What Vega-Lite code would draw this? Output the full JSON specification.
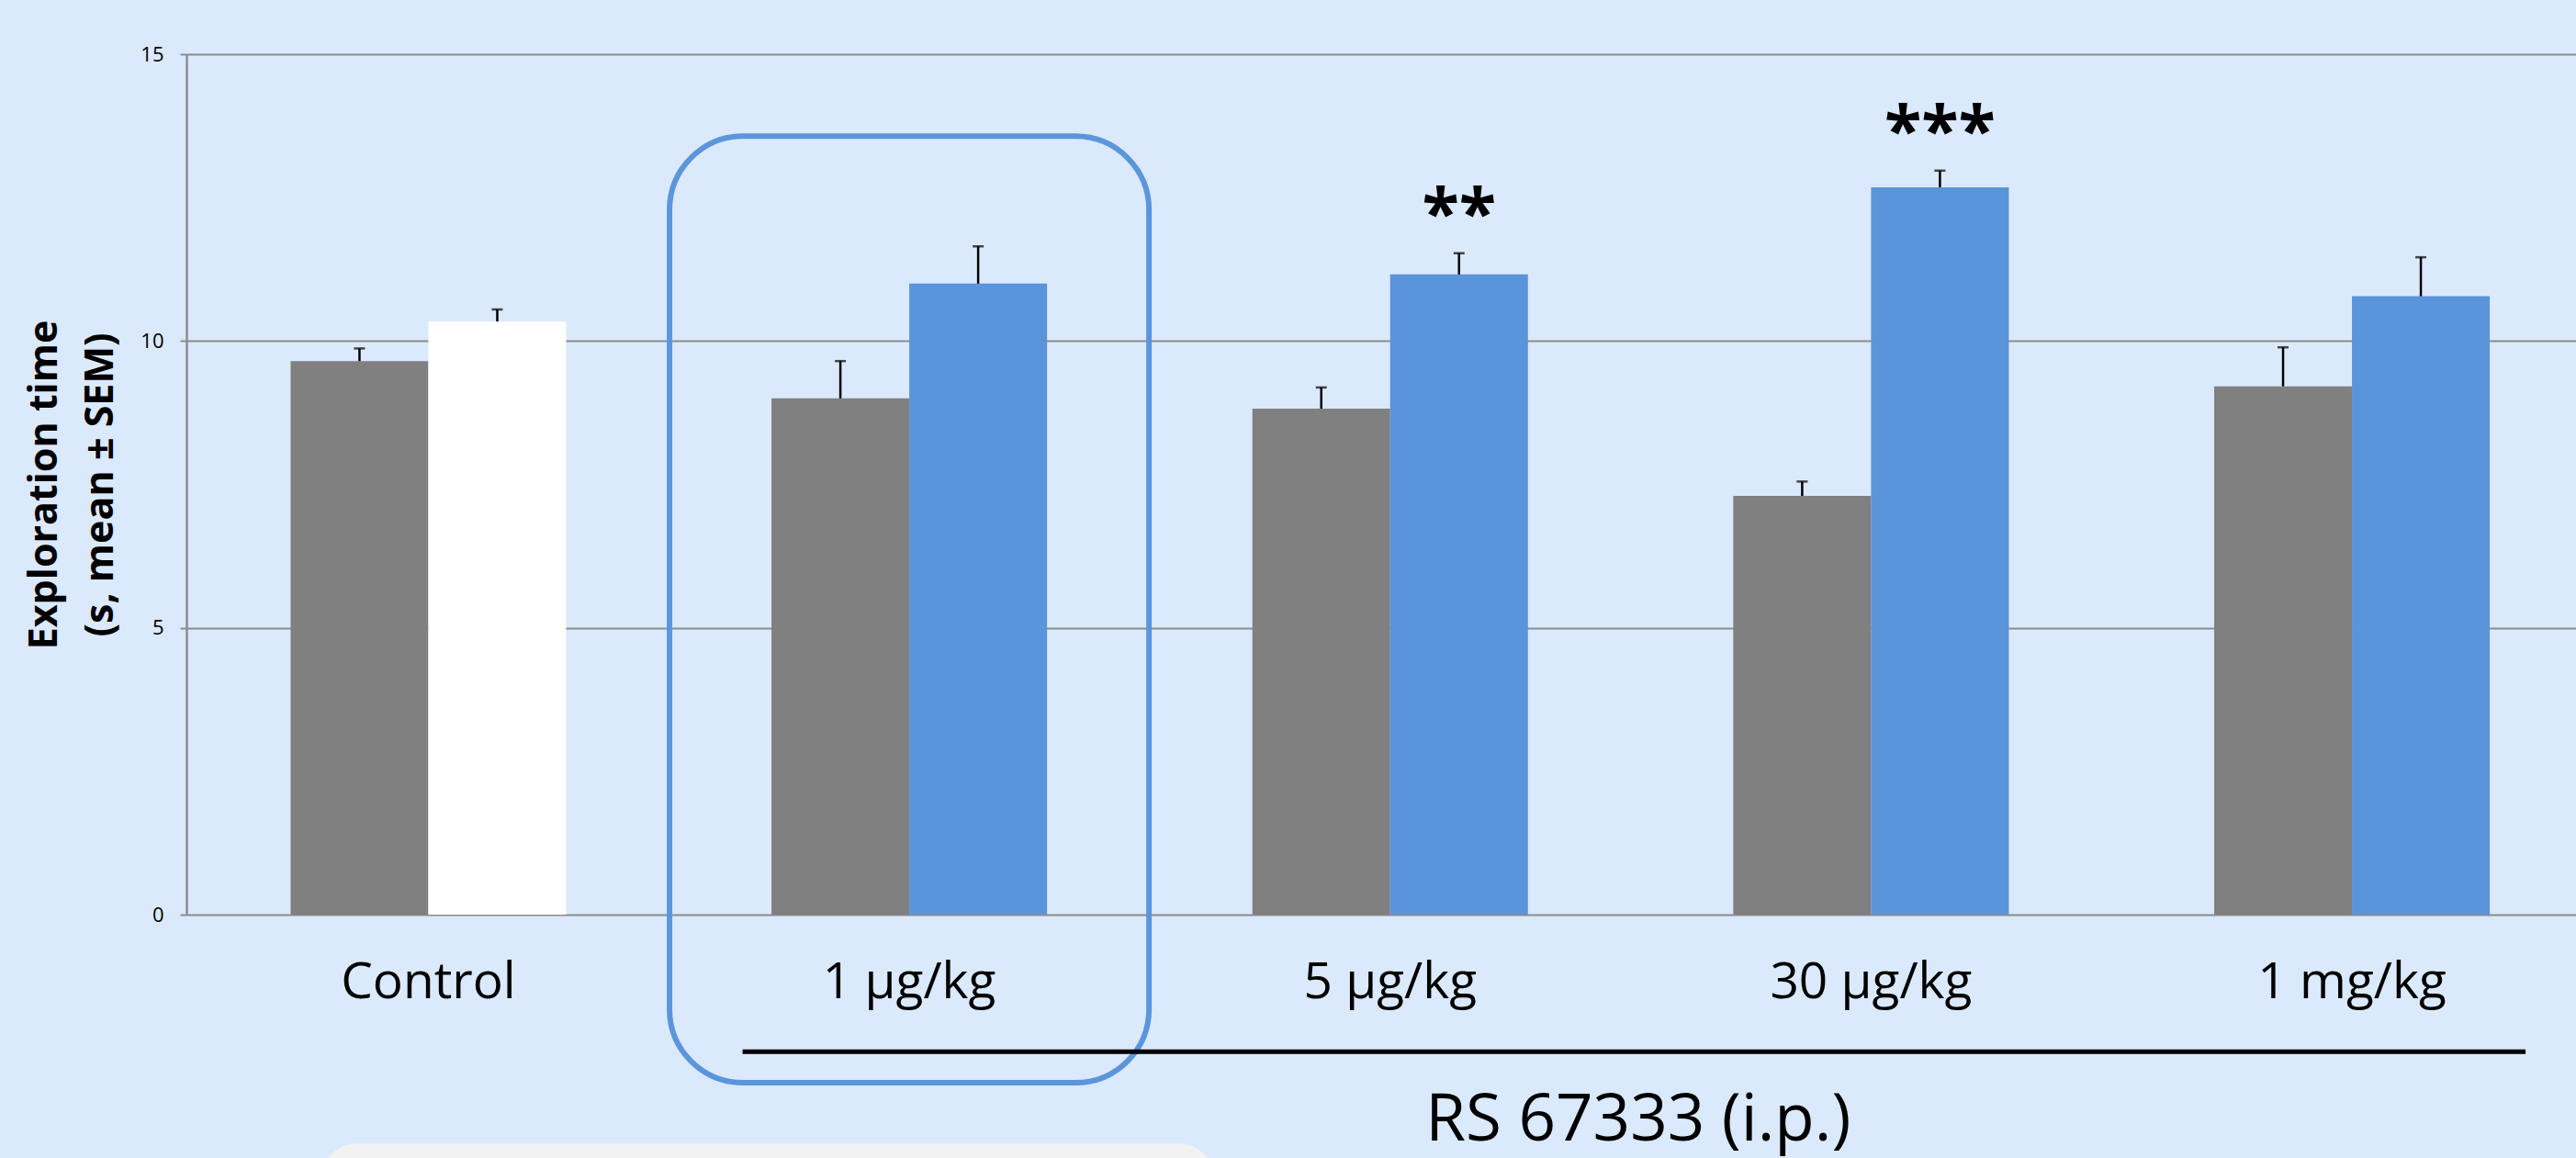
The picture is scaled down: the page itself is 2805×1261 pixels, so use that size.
{
  "$schema": "https://vega.github.io/schema/vega-lite/v6.json",
  "autosize": "none",
  "width": 2602,
  "height": 937,
  "padding": {"left": 203, "top": 59, "right": 0, "bottom": 265},
  "background": "#dbe9fd",
  "config": {"view": {"stroke": null}},
  "data": {"values": [
    {"dose": "Control", "object": "Familiar", "kind": "Familiar", "mean": 9.65, "upper": 9.87},
    {"dose": "Control", "object": "Novel", "kind": "Novel (control)", "mean": 10.34, "upper": 10.55},
    {"dose": "1 µg/kg", "object": "Familiar", "kind": "Familiar", "mean": 9.0, "upper": 9.65},
    {"dose": "1 µg/kg", "object": "Novel", "kind": "Novel", "mean": 11.0, "upper": 11.65},
    {"dose": "5 µg/kg", "object": "Familiar", "kind": "Familiar", "mean": 8.82, "upper": 9.19},
    {"dose": "5 µg/kg", "object": "Novel", "kind": "Novel", "mean": 11.16, "upper": 11.53, "sig": "**"},
    {"dose": "30 µg/kg", "object": "Familiar", "kind": "Familiar", "mean": 7.30, "upper": 7.55},
    {"dose": "30 µg/kg", "object": "Novel", "kind": "Novel", "mean": 12.68, "upper": 12.97, "sig": "***"},
    {"dose": "1 mg/kg", "object": "Familiar", "kind": "Familiar", "mean": 9.21, "upper": 9.89},
    {"dose": "1 mg/kg", "object": "Novel", "kind": "Novel", "mean": 10.78, "upper": 11.46}
  ]},
  "encoding": {
    "x": {
      "field": "dose", "type": "nominal", "sort": null,
      "scale": {"domain": ["Control", "1 µg/kg", "5 µg/kg", "30 µg/kg", "1 mg/kg"], "paddingInner": 0.427, "paddingOuter": 0.198, "align": 0.547},
      "axis": {"title": null, "domain": false, "ticks": false, "tickSize": 0, "labelAngle": 0, "labelFont": "Open Sans", "labelFontSize": 55, "labelColor": "#000000", "labelPadding": 47, "labelLimit": 0, "grid": false}
    }
  },
  "layer": [
    {
      "data": {"values": [{"panel": "next slide element"}]},
      "mark": {"type": "rect", "color": "#f2f2f2", "cornerRadius": 40},
      "encoding": {
        "x": {"datum": "Control", "bandPosition": 0.108},
        "x2": {"datum": "1 µg/kg", "bandPosition": 1.61},
        "y": {"datum": -3.99, "type": "quantitative"},
        "y2": {"datum": -6}
      }
    },
    {
      "data": {"values": [{"dose": "1 µg/kg"}]},
      "mark": {"type": "bar", "fill": "transparent", "stroke": "#5b95dc", "strokeWidth": 6, "cornerRadius": 80, "width": {"band": 1.74}},
      "encoding": {
        "y": {"datum": 13.57, "type": "quantitative"},
        "y2": {"datum": -2.93}
      }
    },
    {
      "mark": {"type": "bar"},
      "encoding": {
        "xOffset": {"field": "object", "type": "nominal", "scale": {"paddingInner": 0, "paddingOuter": 0}},
        "y": {
          "field": "mean", "type": "quantitative",
          "scale": {"domain": [0, 15], "nice": false, "zero": false},
          "axis": {
            "values": [0, 5, 10, 15], "format": "d", "grid": true, "gridColor": "#8c8c8c", "gridWidth": 2,
            "domainColor": "#8c8c8c", "domainWidth": 2.5, "tickColor": "#8c8c8c", "tickWidth": 2, "tickSize": 7,
            "labelFont": "Open Sans", "labelFontSize": 22, "labelColor": "#000000", "labelPadding": 18,
            "title": ["Exploration time", "(s, mean ± SEM)"],
            "titleFont": "Open Sans", "titleFontWeight": "bold", "titleFontSize": 43, "titleLineHeight": 61,
            "titleColor": "#000000", "titlePadding": 21
          }
        },
        "color": {
          "field": "kind", "type": "nominal", "legend": null,
          "scale": {"domain": ["Familiar", "Novel (control)", "Novel"], "range": ["#808080", "#ffffff", "#5a94db"]}
        }
      }
    },
    {
      "mark": {"type": "rule", "color": "#000000", "strokeWidth": 2.5},
      "encoding": {
        "xOffset": {"field": "object", "type": "nominal"},
        "y": {"field": "mean", "type": "quantitative"},
        "y2": {"field": "upper"}
      }
    },
    {
      "mark": {"type": "tick", "color": "#000000", "size": 12, "thickness": 2.5, "orient": "horizontal"},
      "encoding": {
        "xOffset": {"field": "object", "type": "nominal"},
        "y": {"field": "upper", "type": "quantitative"}
      }
    },
    {
      "transform": [{"filter": "datum.sig"}],
      "mark": {"type": "text", "font": "Open Sans", "fontWeight": "bold", "fontSize": 74, "color": "#000000", "baseline": "alphabetic", "align": "center", "dy": -18},
      "encoding": {
        "xOffset": {"field": "object", "type": "nominal"},
        "y": {"field": "upper", "type": "quantitative"},
        "text": {"field": "sig"}
      }
    },
    {
      "data": {"values": [{"group": "RS 67333 (i.p.)"}]},
      "mark": {"type": "rule", "color": "#000000", "strokeWidth": 5},
      "encoding": {
        "x": {"datum": "1 µg/kg", "bandPosition": -0.105},
        "x2": {"datum": "1 mg/kg", "bandPosition": 1.13},
        "y": {"datum": -2.39, "type": "quantitative"}
      }
    },
    {
      "data": {"values": [{"group": "RS 67333 (i.p.)"}]},
      "mark": {"type": "text", "font": "Open Sans", "fontSize": 71, "color": "#000000", "baseline": "alphabetic", "align": "center"},
      "encoding": {
        "x": {"datum": "5 µg/kg", "bandPosition": 1.4},
        "y": {"datum": -3.94, "type": "quantitative"},
        "text": {"field": "group"}
      }
    }
  ]
}
